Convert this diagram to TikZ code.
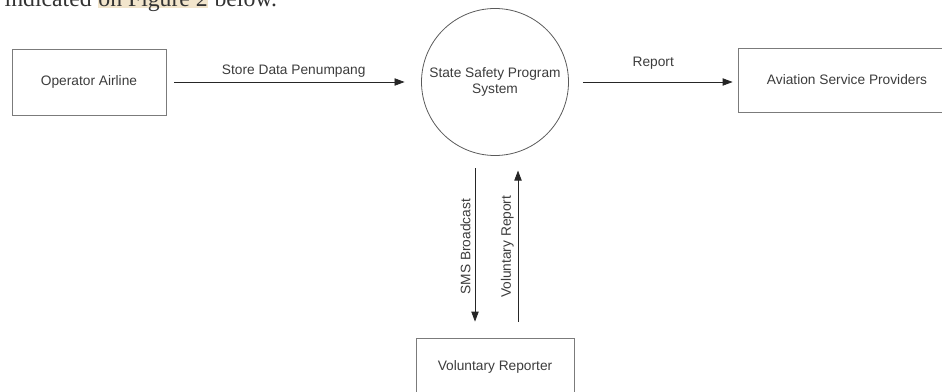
\documentclass[tikz,border=0pt]{standalone}
\usepackage{fontspec}
\setmainfont{Liberation Serif}
\setsansfont{Liberation Sans}
\usetikzlibrary{positioning,arrows.meta}
\definecolor{linegray}{HTML}{5A5A5A}
\definecolor{textgray}{HTML}{3C3C3C}
\definecolor{hlbeige}{HTML}{F2E5CC}
\begin{document}
\begin{tikzpicture}[x=0.75pt,y=-0.75pt,font=\sffamily\fontsize{10.3}{12.6}\selectfont,line width=0.6pt,
  entity/.style={draw=linegray!80,text=textgray,minimum height=49.5pt,inner sep=0pt},
  process/.style={circle,draw=linegray,text=textgray,align=center,minimum size=110.25pt,inner sep=0pt},
  flow/.style={draw=black!85,-{Triangle[length=7.5pt,width=5.5pt]}},
  flowlabel/.style={text=textgray,inner sep=3pt},
  bodytext/.style={text=black!80,inner sep=0pt,font=\rmfamily\fontsize{17.8}{20}\selectfont}]
\useasboundingbox[clip] (0,0) rectangle (942,392);
% running text above the figure
\node[bodytext,fill=hlbeige,text depth=0.75pt,anchor=base west] (hl) at (98,7) {on Figure 2};
\node[bodytext,anchor=base east,xshift=-4.45pt] (ind) at (hl.base west) {indicated};
\node[bodytext,anchor=base west] (blw) at (hl.base east) {\ below.};
% entities and process
\node[entity,minimum width=115.5pt] (oa) at (89,82) {Operator Airline};
\node[process] (ssp) at (495,82) {State Safety Program\\System};
\node[entity,minimum width=163.5pt,minimum height=48pt] (asp) at (847,80) {Aviation Service Providers};
\node[entity,minimum width=118.5pt,minimum height=43.5pt] (vr) at (495,367) {Voluntary Reporter};
% data flows
\draw[flow,shorten <=6pt,shorten >=12.4pt] (oa) -- (ssp) node[midway,above,flowlabel] {Store Data Penumpang};
\draw[flow,shorten <=10.5pt,shorten >=3.75pt] (ssp.east) -- (ssp.east -| asp.west) node[midway,above=6pt,flowlabel] {Report};
\draw[flow,shorten <=9.4pt,shorten >=12pt] ([xshift=-15pt]ssp.south) -- ([xshift=-15pt]vr.north)
  node[midway,rotate=90,anchor=south,flowlabel] {SMS Broadcast};
\draw[flow,shorten <=12pt,shorten >=11pt] ([xshift=17.25pt]vr.north) -- ([xshift=17.25pt]ssp.south)
  node[midway,rotate=90,anchor=south,flowlabel] {Voluntary Report};
\end{tikzpicture}
\end{document}
